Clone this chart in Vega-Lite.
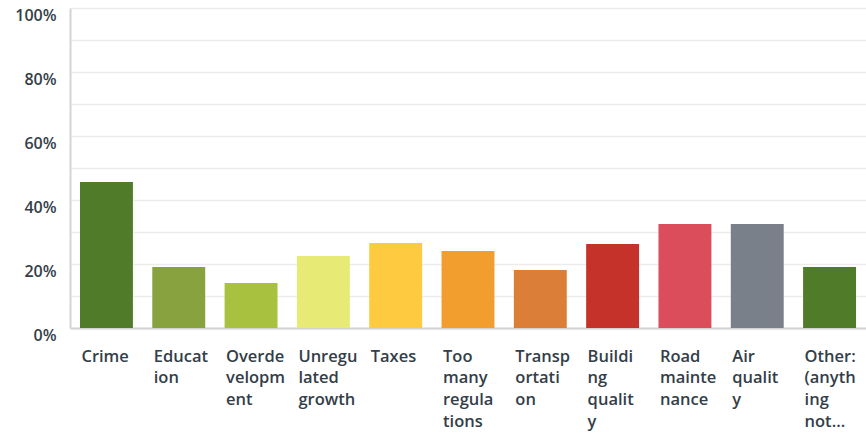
{
  "$schema": "https://vega.github.io/schema/vega-lite/v6.json",
  "autosize": {"type": "none"},
  "width": 796,
  "height": 320,
  "padding": {"left": 70, "top": 8, "right": 0, "bottom": 108},
  "background": "#ffffff",
  "config": {"view": {"stroke": null}},
  "data": {
    "values": [
      {"issue": "Crime", "share": 0.456, "color": "#507b28"},
      {"issue": "Education", "share": 0.191, "color": "#87a23e"},
      {"issue": "Overdevelopment", "share": 0.141, "color": "#a8c23f"},
      {"issue": "Unregulated growth", "share": 0.225, "color": "#e8ea76"},
      {"issue": "Taxes", "share": 0.266, "color": "#fdca40"},
      {"issue": "Too many regulations", "share": 0.241, "color": "#f19e2f"},
      {"issue": "Transportation", "share": 0.181, "color": "#db7e37"},
      {"issue": "Building quality", "share": 0.2625, "color": "#c4322a"},
      {"issue": "Road maintenance", "share": 0.325, "color": "#dc4d5c"},
      {"issue": "Air quality", "share": 0.325, "color": "#79808a"},
      {"issue": "Other: (anything not...", "share": 0.191, "color": "#507b28"}
    ]
  },
  "mark": {"type": "bar"},
  "encoding": {
    "x": {
      "field": "issue",
      "type": "nominal",
      "sort": null,
      "scale": {"paddingInner": 0.268, "paddingOuter": 0.138},
      "axis": {
        "title": null,
        "labelAngle": 0,
        "labelAlign": "left",
        "labelBaseline": "top",
        "labelOffset": -25,
        "labelPadding": 20,
        "labelFont": "Open Sans",
        "labelFontWeight": 600,
        "labelFontSize": 16.5,
        "labelColor": "#333e48",
        "labelLineHeight": 21.7,
        "labelLimit": 0,
        "ticks": false,
        "domainColor": "#d4d4d4",
        "domainWidth": 2,
        "labelExpr": "({'Crime': ['Crime'], 'Education': ['Educat','ion'], 'Overdevelopment': ['Overde','velopm','ent'], 'Unregulated growth': ['Unregu','lated','growth'], 'Taxes': ['Taxes'], 'Too many regulations': ['Too','many','regula','tions'], 'Transportation': ['Transp','ortati','on'], 'Building quality': ['Buildi','ng','qualit','y'], 'Road maintenance': ['Road','mainte','nance'], 'Air quality': ['Air','qualit','y'], 'Other: (anything not...': ['Other:','(anyth','ing','not...']})[datum.value]"
      }
    },
    "y": {
      "field": "share",
      "type": "quantitative",
      "scale": {"domain": [0, 1], "nice": false},
      "axis": {
        "title": null,
        "values": [0, 0.1, 0.2, 0.3, 0.4, 0.5, 0.6, 0.7, 0.8, 0.9, 1],
        "labelExpr": "round(datum.value*10) % 2 == 0 ? format(datum.value, '.0%') : ''",
        "labelFont": "Open Sans",
        "labelFontWeight": 600,
        "labelFontSize": 16,
        "labelColor": "#333e48",
        "labelPadding": 14,
        "labelOffset": 7,
        "ticks": false,
        "grid": true,
        "gridColor": "#ececec",
        "gridWidth": 1.5,
        "domainColor": "#d4d4d4",
        "domainWidth": 2
      }
    },
    "color": {"field": "color", "type": "nominal", "scale": null, "legend": null}
  }
}
